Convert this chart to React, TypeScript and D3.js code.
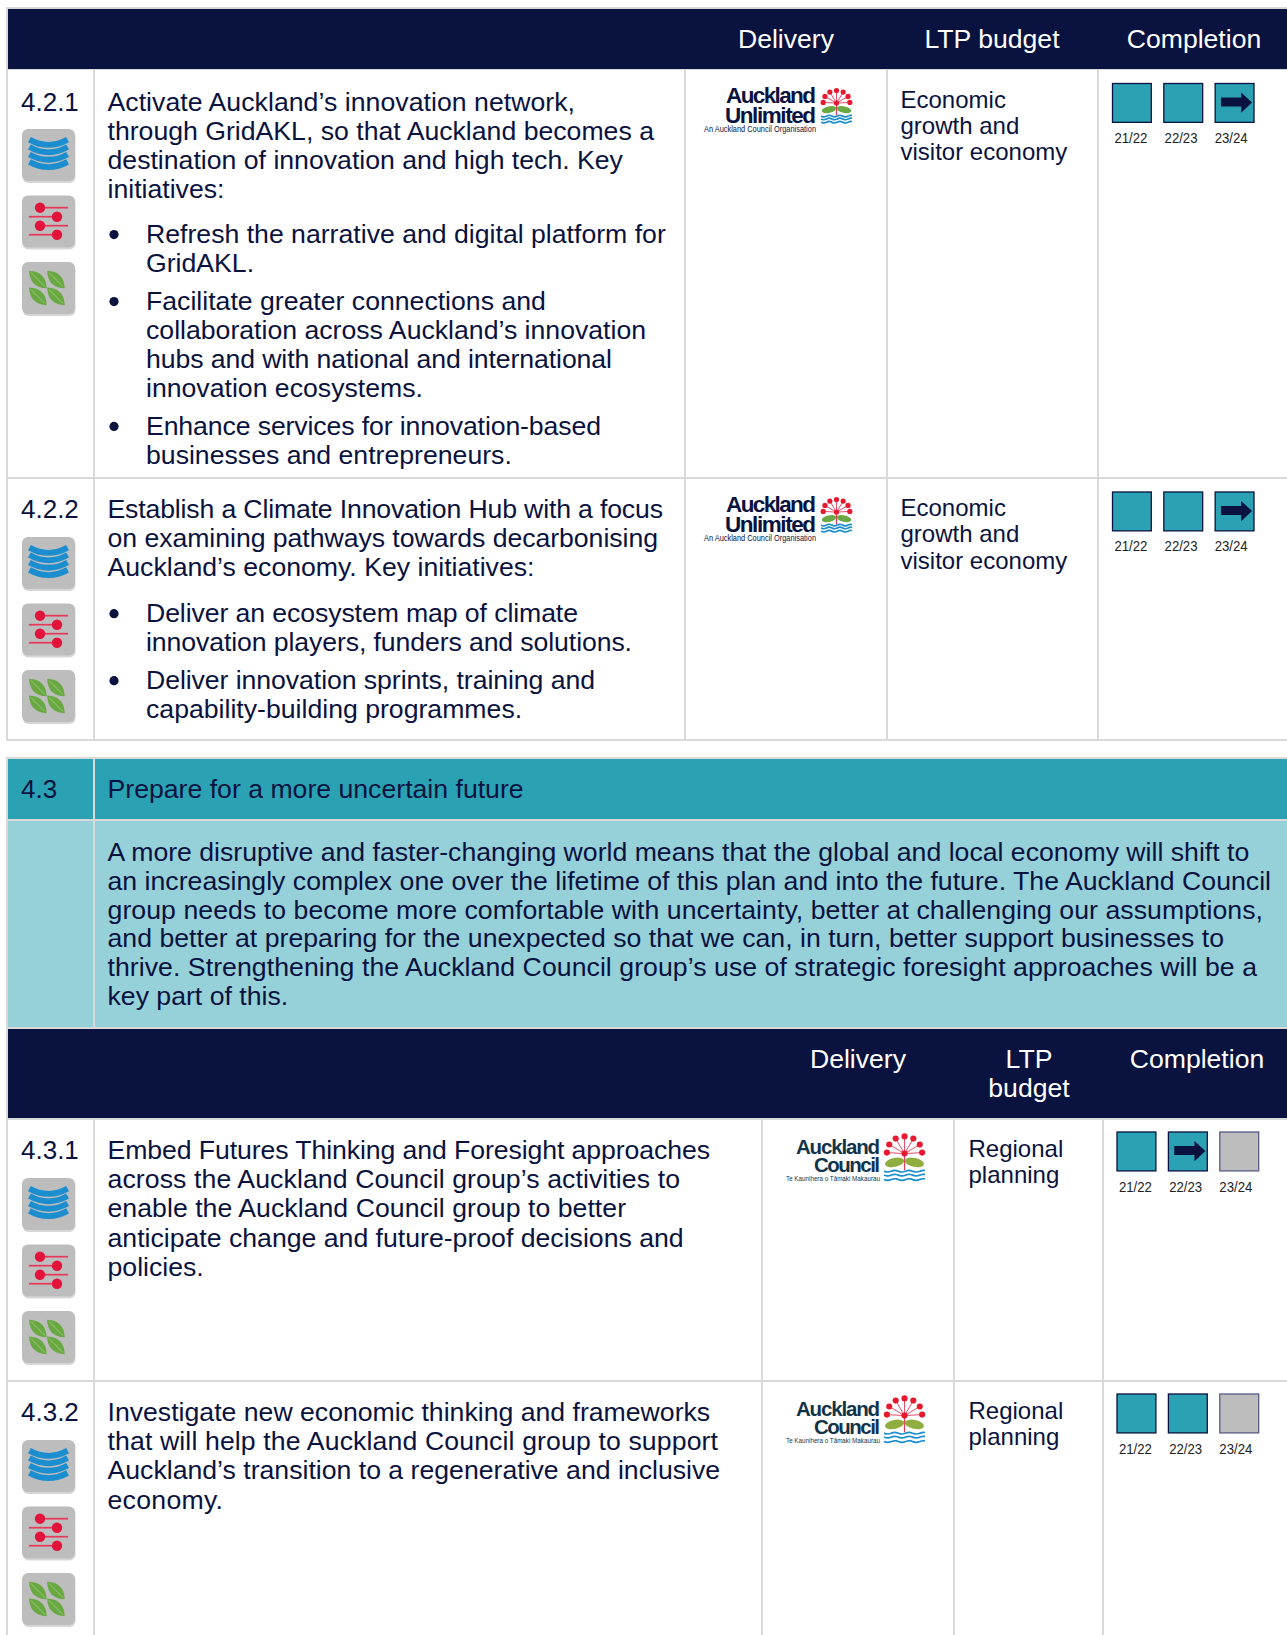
import React from "react";
import * as d3 from "d3";

const NAVY = "#0a1240", TEAL = "#2aa2b3", LIGHT = "#96d0d8", LINE = "#d9d9d9", GREY = "#bdbdbd";
const FONT = "'Liberation Sans', Arial, sans-serif";

const years = ["21/22", "22/23", "23/24"];
const status421 = ["done", "done", "arrow"];
const status422 = ["done", "done", "arrow"];
const status431 = ["done", "arrow", "none"];
const status432 = ["done", "done", "none"];

const intro421 = ["Activate Auckland’s innovation network,", "through GridAKL, so that Auckland becomes a", "destination of innovation and high tech. Key", "initiatives:"];
const bullets421 = [
  ["Refresh the narrative and digital platform for", "GridAKL."],
  ["Facilitate greater connections and", "collaboration across Auckland’s innovation", "hubs and with national and international", "innovation ecosystems."],
  ["Enhance services for innovation-based", "businesses and entrepreneurs."],
];
const intro422 = ["Establish a Climate Innovation Hub with a focus", "on examining pathways towards decarbonising", "Auckland’s economy. Key initiatives:"];
const bullets422 = [
  ["Deliver an ecosystem map of climate", "innovation players, funders and solutions."],
  ["Deliver innovation sprints, training and", "capability-building programmes."],
];
const intro431 = ["Embed Futures Thinking and Foresight approaches", "across the Auckland Council group’s activities to", "enable the Auckland Council group to better", "anticipate change and future-proof decisions and", "policies."];
const intro432 = ["Investigate new economic thinking and frameworks", "that will help the Auckland Council group to support", "Auckland’s transition to a regenerative and inclusive", "economy."];
const budgetEconomic = ["Economic", "growth and", "visitor economy"];
const budgetRegional = ["Regional", "planning"];
const sectionText = [
  "A more disruptive and faster-changing world means that the global and local economy will shift to",
  "an increasingly complex one over the lifetime of this plan and into the future. The Auckland Council",
  "group needs to become more comfortable with uncertainty, better at challenging our assumptions,",
  "and better at preparing for the unexpected so that we can, in turn, better support businesses to",
  "thrive. Strengthening the Auckland Council group’s use of strategic foresight approaches will be a",
  "key part of this.",
];

const BODY = 26.65, NUM = 26, LH = 28.9, BUDGET = 24;

// Right-hand ends of the lines whose width differs by the font substitution
const lineEnds = new Map<string, number>([
  [intro421[0], 575],
  [bullets421[1][2], 612],
  [bullets421[2][0], 601],
  [intro422[0], 663],
  [intro422[1], 658],
  [bullets422[0][0], 578],
  [bullets422[0][1], 632],
  [bullets422[1][0], 595],
  [intro431[0], 710],
  [intro431[1], 680],
  [intro431[2], 626],
  [intro432[1], 718],
  [intro432[3], 223],
  [sectionText[1], 1271],
  [sectionText[2], 1263],
  [sectionText[3], 1224],
  [sectionText[4], 1257],
]);

function Line({ x, y, t }: { x: number; y: number; t: string }) {
  const end = lineEnds.get(t);
  return <text x={x} y={y} fontSize={BODY} fill={NAVY} {...(end ? { textLength: end - x, lengthAdjust: "spacing" } : {})}>{t}</text>;
}

function leaf(len: number, bulge: number) {
  const p = d3.path();
  p.moveTo(-len, 0);
  p.quadraticCurveTo(0, -bulge, len, 0);
  p.quadraticCurveTo(0, bulge, -len, 0);
  p.closePath();
  return p.toString();
}

function Icon({ x, y, kind }: { x: number; y: number; kind: number }) {
  const s = d3.scaleLinear().domain([0, 1]).range([0, 53]);
  const bands = d3.range(4).map((i) => {
    const p = d3.path();
    const t = s(0.2 + i * 0.14);
    p.moveTo(s(0.14), t);
    p.quadraticCurveTo(s(0.5), t + s(0.2), s(0.86), t);
    return p.toString();
  });
  return (
    <g transform={`translate(${x},${y})`}>
      <rect x={0.5} y={1} width={53} height={53} rx={6} fill="#d6d6d6" />
      <rect width={53} height={52} rx={6} fill={GREY} />
      {kind === 0 && bands.map((d, i) => <path key={i} d={d} fill="none" stroke="#1b8ed0" strokeWidth={5.8} />)}
      {kind === 1 && [0.23, 0.4, 0.57, 0.74].map((f, i) => {
        const odd = i % 2 === 1;
        const cx = odd ? s(0.66) : s(0.34);
        return (
          <g key={i}>
            <line x1={odd ? s(0.13) : cx} x2={odd ? cx : s(0.87)} y1={s(f)} y2={s(f)} stroke="#e8385a" strokeWidth={1.7} />
            <circle cx={cx} cy={s(f)} r={5.2} fill="#e3143c" />
          </g>
        );
      })}
      {kind === 2 && [[0.3, 0.33], [0.64, 0.33], [0.3, 0.65], [0.64, 0.65]].map(([a, b], i) => (
        <g key={i} transform={`translate(${s(a)},${s(b)}) rotate(45)`}>
          <path d={leaf(12.5, 11.5)} fill="#69a842" />
          <line x1={-10} x2={10} stroke="#a5cc7e" strokeWidth={0.8} />
        </g>
      ))}
    </g>
  );
}

function Flower({ x, y, w, h, dark }: { x: number; y: number; w: number; h: number; dark?: boolean }) {
  const sx = d3.scaleLinear().domain([0, 1]).range([x, x + w]);
  const sy = d3.scaleLinear().domain([0, 1]).range([y, y + h]);
  const angles = d3.range(-90, 91, 30);
  const r = Math.max(w, h) * 0.036 + 1.3;
  const wave = (f: number) => {
    const line = d3.line<number>().x((t) => sx(t)).y((t) => sy(f) + Math.sin(t * 18) * 0.9).curve(d3.curveBasis);
    return line(d3.range(0, 1.01, 0.05)) as string;
  };
  return (
    <g>
      <line x1={sx(0.5)} x2={sx(0.5)} y1={sy(0.4)} y2={sy(0.76)} stroke="#e8385a" strokeWidth={1.2} />
      {angles.map((a) => {
        const t = (a * Math.PI) / 180;
        const cx = sx(0.5 + 0.43 * Math.sin(t)), cy = sy(0.4 - 0.33 * Math.cos(t));
        return (
          <g key={a}>
            <line x1={sx(0.5)} y1={sy(0.42)} x2={cx} y2={cy} stroke="#e8385a" strokeWidth={0.9} />
            <circle cx={cx} cy={cy} r={r} fill="#e6192f" />
          </g>
        );
      })}
      <circle cx={sx(0.5)} cy={sy(0.42)} r={r} fill="#e6192f" />
      <ellipse cx={sx(0.26)} cy={sy(0.6)} rx={w * 0.24} ry={h * 0.09} fill={dark ? "#8fae3f" : "#69a842"} transform={`rotate(-12 ${sx(0.26)} ${sy(0.6)})`} />
      <ellipse cx={sx(0.74)} cy={sy(0.6)} rx={w * 0.24} ry={h * 0.09} fill={dark ? "#8fae3f" : "#69a842"} transform={`rotate(12 ${sx(0.74)} ${sy(0.6)})`} />
      {[0.78, 0.86, 0.95].map((f) => <path key={f} d={wave(f)} fill="none" stroke="#1b8ed0" strokeWidth={1.7} />)}
    </g>
  );
}

function LogoUnlimited({ top }: { top: number }) {
  const c = "#0a1240";
  const T = (t: string, w: number, dy: number, fs: number, bold = true) => (
    <text x={816 - w} y={top + dy} fontSize={fs} fontWeight={bold ? 700 : 400} fill={c} textLength={w} lengthAdjust={bold ? "spacing" : "spacingAndGlyphs"}>{t}</text>
  );
  return (
    <g>
      {T("Auckland", 90, 34, 22.5)}
      {T("Unlimited", 91, 53.5, 22.5)}
      {T("An Auckland Council Organisation", 112, 63, 8.2, false)}
      <Flower x={821} y={top + 19} w={31} h={36} />
    </g>
  );
}

function LogoCouncil({ top }: { top: number }) {
  const c = "#12344a";
  const T = (t: string, w: number, dy: number, fs: number, bold = true) => (
    <text x={880 - w} y={top + dy} fontSize={fs} fontWeight={bold ? 700 : 400} fill={c} textLength={w} lengthAdjust={bold ? "spacing" : "spacingAndGlyphs"}>{t}</text>
  );
  return (
    <g>
      {T("Auckland", 84, 36, 20.5)}
      {T("Council", 66, 54, 20.5)}
      {T("Te Kaunihera o Tāmaki Makaurau", 94, 63, 7.4, false)}
      <Flower x={884} y={top + 15} w={41} h={49} dark />
    </g>
  );
}

function Status({ statuses, x0, x1, top, labelDy }: { statuses: string[]; x0: number; x1: number; top: number; labelDy: number }) {
  const band = d3.scaleBand<string>().domain(years).range([x0, x1]).paddingInner(0.243);
  const w = band.bandwidth();
  return (
    <g>
      {years.map((yr, i) => {
        const x = band(yr)!;
        const st = statuses[i];
        const ax = d3.scaleLinear().domain([0, 1]).range([x, x + w]);
        const ay = d3.scaleLinear().domain([0, 1]).range([top, top + w]);
        const arrow = d3.line<number[]>().x((d) => ax(d[0])).y((d) => ay(d[1]));
        return (
          <g key={yr}>
            <rect x={x} y={top} width={w} height={w} fill={st === "none" ? GREY : TEAL} stroke={st === "none" ? "#555c85" : NAVY} strokeWidth={1.3} />
            {st === "arrow" && (
              <path d={arrow([[0.15, 0.36], [0.67, 0.36], [0.67, 0.23], [0.95, 0.49], [0.67, 0.75], [0.67, 0.59], [0.15, 0.59]]) + "Z"} fill={NAVY} />
            )}
            <text x={x + w / 2 - i * 1.2 - 1} y={top + labelDy} textAnchor="middle" fontSize={14} fill="#222" textLength={33} lengthAdjust="spacingAndGlyphs">{yr}</text>
          </g>
        );
      })}
    </g>
  );
}

function Row({ id, top, bottom, intro, bullets, budget, budgetX, statuses, sx0, sx1, Logo, budgetDy, statusDy, textDy, iconDy, lh, introGap, labelDy }: any) {
  const first = top + 42 + textDy;
  let y = first;
  const rows: React.ReactNode[] = [];
  intro.forEach((l: string, i: number) => {
    rows.push(<Line key={"i" + i} x={107.5} y={y} t={l} />);
    y += lh;
  });
  y += introGap;
  (bullets || []).forEach((b: string[], bi: number) => {
    rows.push(<circle key={"b" + bi} cx={114} cy={y - 8.5} r={4.6} fill={NAVY} />);
    b.forEach((l, i) => {
      rows.push(<Line key={`t${bi}-${i}`} x={146} y={y} t={l} />);
      y += lh;
    });
    y += 9.2;
  });
  return (
    <g>
      <text x={21} y={first} fontSize={NUM} fill={NAVY}>{id}</text>
      {[0, 1, 2].map((k) => <Icon key={k} x={22} y={top + 60 + iconDy + k * 66.5} kind={k} />)}
      {rows}
      <Logo top={top} />
      {budget.map((l: string, i: number) => (
        <text key={i} x={budgetX} y={top + budgetDy + i * 26.4} fontSize={BUDGET} fill={NAVY}>{l}</text>
      ))}
      <Status statuses={statuses} x0={sx0} x1={sx1} top={top + statusDy} labelDy={labelDy} />
      {bottom < 1635 && <line x1={6} x2={1287} y1={bottom} y2={bottom} stroke={LINE} strokeWidth={2} />}
    </g>
  );
}

const VL = ({ x, y1, y2 }: { x: number; y1: number; y2: number }) => <line x1={x} x2={x} y1={y1} y2={y2} stroke={LINE} strokeWidth={2} />;
const Head = ({ x, y, t }: { x: number; y: number; t: string }) => <text x={x} y={y} textAnchor="middle" fontSize={26.6} fill="#fff">{t}</text>;

export default function App() {
  return (
    <svg width={1287} height={1635} viewBox="0 0 1287 1635" style={{ position: "absolute", left: 0, top: 0, display: "block", fontFamily: FONT }}>
      <rect width={1287} height={1635} fill="#fff" />
      {/* top table */}
      <rect x={6} y={7} width={1281} height={63} fill={LINE} />
      <rect x={8} y={9} width={1279} height={60} fill={NAVY} />
      <Head x={786} y={48} t="Delivery" />
      <Head x={992} y={48} t="LTP budget" />
      <Head x={1194} y={48} t="Completion" />
      <VL x={7} y1={70} y2={741} />
      <VL x={94} y1={70} y2={741} />
      <VL x={685} y1={70} y2={741} />
      <VL x={887} y1={70} y2={741} />
      <VL x={1098} y1={70} y2={741} />
      <Row id="4.2.1" top={69} bottom={478} intro={intro421} bullets={bullets421} budget={budgetEconomic} budgetX={900.5} statuses={status421} sx0={1112.5} sx1={1254} Logo={LogoUnlimited} budgetDy={38.5} statusDy={14.5} textDy={0} iconDy={0} lh={LH} introGap={16.5} labelDy={59.5} />
      <Row id="4.2.2" top={478} bottom={740} intro={intro422} bullets={bullets422} budget={budgetEconomic} budgetX={900.5} statuses={status422} sx0={1112.5} sx1={1254} Logo={LogoUnlimited} budgetDy={38} statusDy={14} textDy={-2} iconDy={-1} lh={LH} introGap={17.5} labelDy={59} />

      {/* section table */}
      <rect x={6} y={757} width={1281} height={878} fill={LINE} />
      <rect x={8} y={759} width={85} height={60} fill={TEAL} />
      <rect x={95} y={759} width={1192} height={60} fill={TEAL} />
      <rect x={8} y={821} width={85} height={206} fill={LIGHT} />
      <rect x={95} y={821} width={1192} height={206} fill={LIGHT} />
      <text x={21} y={798} fontSize={NUM} fill={NAVY}>4.3</text>
      <Line x={107.5} y={798} t="Prepare for a more uncertain future" />
      {sectionText.map((l, i) => <Line key={i} x={107.5} y={861 + i * 28.8} t={l} />)}
      <rect x={8} y={1029} width={1279} height={89} fill={NAVY} />
      <Head x={858} y={1068} t="Delivery" />
      <Head x={1029} y={1068} t="LTP" />
      <Head x={1029} y={1097} t="budget" />
      <Head x={1197} y={1068} t="Completion" />
      <rect x={8} y={1120} width={1279} height={515} fill="#fff" />
      <VL x={94} y1={1119} y2={1635} />
      <VL x={762} y1={1119} y2={1635} />
      <VL x={954} y1={1119} y2={1635} />
      <VL x={1103} y1={1119} y2={1635} />
      <Row id="4.3.1" top={1118} bottom={1381} intro={intro431} budget={budgetRegional} budgetX={968.5} statuses={status431} sx0={1117} sx1={1258.7} Logo={LogoCouncil} budgetDy={39} statusDy={14} textDy={-1} iconDy={0} lh={29.2} introGap={0} labelDy={60} />
      <Row id="4.3.2" top={1380} bottom={1700} intro={intro432} budget={budgetRegional} budgetX={968.5} statuses={status432} sx0={1117} sx1={1258.7} Logo={LogoCouncil} budgetDy={39} statusDy={14} textDy={-1} iconDy={0} lh={29.2} introGap={0} labelDy={60} />
    </svg>
  );
}
